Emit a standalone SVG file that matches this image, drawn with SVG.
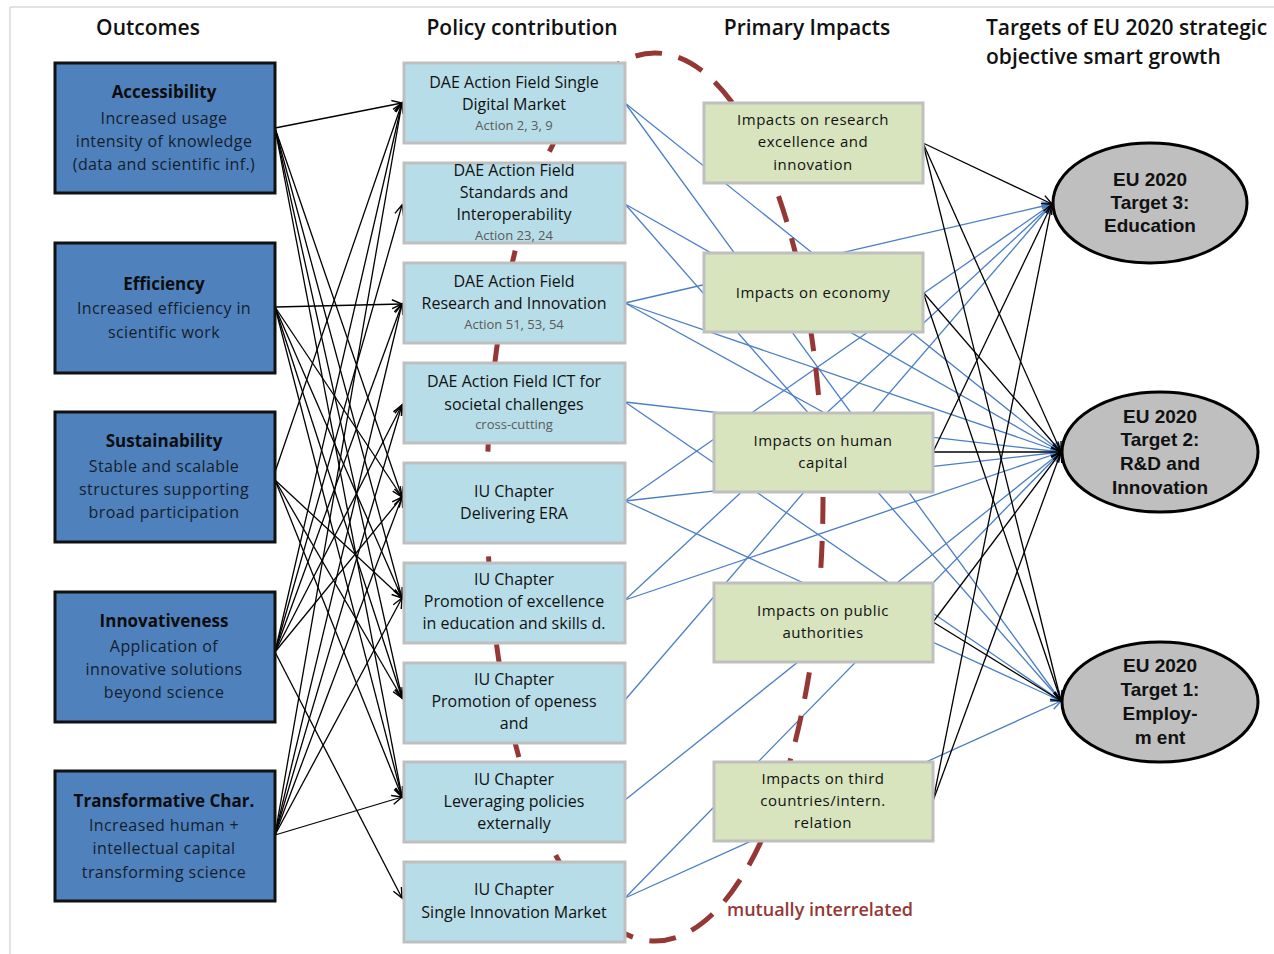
<svg xmlns="http://www.w3.org/2000/svg" width="1274" height="954" viewBox="0 0 1274 954">
  <defs>
    <marker id="arrow-black" markerUnits="userSpaceOnUse" markerWidth="14" markerHeight="12" refX="11" refY="5" orient="auto" overflow="visible">
      <path d="M1,0.5 L11,5 L1,9.5" fill="none" stroke="#000" stroke-width="1.4"/>
    </marker>
    <marker id="arrow-blue" markerUnits="userSpaceOnUse" markerWidth="14" markerHeight="12" refX="11" refY="5" orient="auto" overflow="visible">
      <path d="M1,0.5 L11,5 L1,9.5" fill="none" stroke="#4A7EC6" stroke-width="1.4"/>
    </marker>
  </defs>
  <style>
    .hdr { font-family: "Open Sans", "Liberation Sans", sans-serif; font-size: 21px; font-weight: 600; fill: #111; }
    .outcome rect { fill: #4F81BD; stroke: #111; stroke-width: 3; }
    .outcome .t { font-family: "Open Sans", "Liberation Sans", sans-serif; font-size: 17px; font-weight: 700; fill: #0d0d0d; text-anchor: middle; }
    .outcome .b { font-family: "Open Sans", "Liberation Sans", sans-serif; font-size: 16px; letter-spacing: 0.4px; fill: #141e2c; text-anchor: middle; }
    .policy rect { fill: #B7DDE8; stroke: #BFBFBF; stroke-width: 3; }
    .policy .m { font-family: "Open Sans", "Liberation Sans", sans-serif; font-size: 16px; fill: #111; text-anchor: middle; }
    .policy .s { font-family: "Open Sans", "Liberation Sans", sans-serif; font-size: 13px; fill: #5a5a5a; text-anchor: middle; }
    .impact rect { fill: #D7E4BD; stroke: #BFBFBF; stroke-width: 3; }
    .impact text { font-family: "Open Sans", "Liberation Sans", sans-serif; font-size: 15px; letter-spacing: 0.5px; fill: #111; text-anchor: middle; }
    .target ellipse { fill: #BFBFBF; stroke: #000; stroke-width: 3; }
    .target text { font-family: "Liberation Sans", Arial, sans-serif; font-size: 19px; font-weight: 700; fill: #111; text-anchor: middle; }
    .blk { stroke: #000; stroke-width: 1.3; fill: none; }
    .blu { stroke: #4A7EC6; stroke-width: 1.3; fill: none; }
    .frame { stroke: #D9D9D9; stroke-width: 1.5; }
  </style>

  <rect x="0" y="0" width="1274" height="954" fill="#fff"/>
  <line class="frame" x1="10" y1="7" x2="1274" y2="7"/>
  <line class="frame" x1="10" y1="7" x2="10" y2="954"/>

  <!-- column headings -->
  <g id="headings">
    <text class="hdr" x="148" y="35" text-anchor="middle">Outcomes</text>
    <text class="hdr" x="522" y="35" text-anchor="middle">Policy contribution</text>
    <text class="hdr" x="807" y="35" text-anchor="middle">Primary Impacts</text>
    <text class="hdr" x="986" y="35">Targets of EU 2020 strategic</text>
    <text class="hdr" x="986" y="64">objective smart growth</text>
  </g>

  <!-- connectors -->
  <g id="connectors">
    <!-- outcomes to policy contributions -->
    <g marker-end="url(#arrow-black)">
      <line class="blk" x1="275" y1="128" x2="402" y2="103"/>
      <line class="blk" x1="275" y1="128" x2="402" y2="497"/>
      <line class="blk" x1="275" y1="128" x2="402" y2="598"/>
      <line class="blk" x1="275" y1="128" x2="402" y2="698"/>
      <line class="blk" x1="275" y1="128" x2="402" y2="797"/>

      <line class="blk" x1="275" y1="307" x2="402" y2="304"/>
      <line class="blk" x1="275" y1="307" x2="402" y2="497"/>
      <line class="blk" x1="275" y1="307" x2="402" y2="598"/>
      <line class="blk" x1="275" y1="307" x2="402" y2="698"/>
      <line class="blk" x1="275" y1="307" x2="402" y2="797"/>

      <line class="blk" x1="275" y1="472" x2="402" y2="103"/>
      <line class="blk" x1="275" y1="480" x2="402" y2="598"/>
      <line class="blk" x1="275" y1="480" x2="402" y2="698"/>
      <line class="blk" x1="275" y1="480" x2="402" y2="797"/>

      <line class="blk" x1="275" y1="652" x2="402" y2="103"/>
      <line class="blk" x1="275" y1="652" x2="402" y2="205"/>
      <line class="blk" x1="275" y1="652" x2="402" y2="304"/>
      <line class="blk" x1="275" y1="652" x2="402" y2="405"/>
      <line class="blk" x1="275" y1="652" x2="402" y2="497"/>
      <line class="blk" x1="275" y1="652" x2="402" y2="898"/>

      <line class="blk" x1="275" y1="835" x2="402" y2="103"/>
      <line class="blk" x1="275" y1="835" x2="402" y2="304"/>
      <line class="blk" x1="275" y1="835" x2="402" y2="405"/>
      <line class="blk" x1="275" y1="835" x2="402" y2="497"/>
      <line class="blk" x1="275" y1="835" x2="402" y2="598"/>
      <line class="blk" x1="275" y1="835" x2="402" y2="797"/>
    </g>

    <!-- policy contributions to targets (drawn beneath the impact boxes) -->
    <g marker-end="url(#arrow-blue)">
      <line class="blu" x1="625" y1="103" x2="1061" y2="452"/>
      <line class="blu" x1="625" y1="103" x2="1061" y2="701"/>
      <line class="blu" x1="625" y1="204" x2="1061" y2="452"/>
      <line class="blu" x1="625" y1="204" x2="1061" y2="701"/>
      <line class="blu" x1="625" y1="303" x2="1052" y2="204"/>
      <line class="blu" x1="625" y1="303" x2="1061" y2="452"/>
      <line class="blu" x1="625" y1="402" x2="1061" y2="452"/>
      <line class="blu" x1="625" y1="402" x2="1061" y2="701"/>
      <line class="blu" x1="625" y1="501" x2="1052" y2="204"/>
      <line class="blu" x1="625" y1="501" x2="1061" y2="452"/>
      <line class="blu" x1="625" y1="501" x2="1061" y2="701"/>
      <line class="blu" x1="625" y1="600" x2="1052" y2="204"/>
      <line class="blu" x1="625" y1="600" x2="1061" y2="452"/>
      <line class="blu" x1="625" y1="700" x2="1052" y2="204"/>
      <line class="blu" x1="625" y1="800" x2="1061" y2="452"/>
      <line class="blu" x1="625" y1="898" x2="1061" y2="452"/>
      <line class="blu" x1="625" y1="898" x2="1061" y2="701"/>
    </g>
    <line class="blu" x1="625" y1="303" x2="823" y2="412"/>

    <!-- primary impacts to targets -->
    <g marker-end="url(#arrow-black)">
      <line class="blk" x1="923" y1="143" x2="1052" y2="204"/>
      <line class="blk" x1="923" y1="143" x2="1061" y2="452"/>
      <line class="blk" x1="923" y1="143" x2="1061" y2="701"/>
      <line class="blk" x1="923" y1="292" x2="1061" y2="452"/>
      <line class="blk" x1="923" y1="292" x2="1061" y2="701"/>
      <line class="blk" x1="933" y1="452" x2="1052" y2="204"/>
      <line class="blk" x1="933" y1="452" x2="1061" y2="452"/>
      <line class="blk" x1="933" y1="622" x2="1061" y2="452"/>
      <line class="blk" x1="933" y1="622" x2="1061" y2="701"/>
      <line class="blk" x1="933" y1="801" x2="1052" y2="204"/>
      <line class="blk" x1="933" y1="801" x2="1061" y2="452"/>
    </g>
  </g>

  <!-- dashed loop marking the interrelated policy fields -->
  <g id="interrelation">
    <ellipse cx="655" cy="497" rx="168" ry="444" fill="none" stroke="#953735" stroke-width="5" stroke-dasharray="27 17"/>
    <text x="727" y="916" font-family="'Open Sans', 'Liberation Sans', sans-serif" font-size="18" font-weight="600" fill="#953735">mutually interrelated</text>
  </g>

  <!-- outcomes -->
  <g id="outcome-accessibility" class="outcome">
    <rect x="55" y="63" width="220" height="130"/>
    <text class="t" x="164" y="98">Accessibility</text>
    <text class="b" x="164" y="124">Increased usage</text>
    <text class="b" x="164" y="147">intensity of knowledge</text>
    <text class="b" x="164" y="170">(data and scientific inf.)</text>
  </g>
  <g id="outcome-efficiency" class="outcome">
    <rect x="55" y="243" width="220" height="130"/>
    <text class="t" x="164" y="290">Efficiency</text>
    <text class="b" x="164" y="314">Increased efficiency in</text>
    <text class="b" x="164" y="338">scientific work</text>
  </g>
  <g id="outcome-sustainability" class="outcome">
    <rect x="55" y="412" width="220" height="130"/>
    <text class="t" x="164" y="447">Sustainability</text>
    <text class="b" x="164" y="472">Stable and scalable</text>
    <text class="b" x="164" y="495">structures supporting</text>
    <text class="b" x="164" y="518">broad participation</text>
  </g>
  <g id="outcome-innovativeness" class="outcome">
    <rect x="55" y="592" width="220" height="130"/>
    <text class="t" x="164" y="627">Innovativeness</text>
    <text class="b" x="164" y="652">Application of</text>
    <text class="b" x="164" y="675">innovative solutions</text>
    <text class="b" x="164" y="698">beyond science</text>
  </g>
  <g id="outcome-transformative" class="outcome">
    <rect x="55" y="771" width="220" height="130"/>
    <text class="t" x="164" y="807">Transformative Char.</text>
    <text class="b" x="164" y="831">Increased human +</text>
    <text class="b" x="164" y="854">intellectual capital</text>
    <text class="b" x="164" y="878">transforming science</text>
  </g>

  <!-- policy contributions -->
  <g id="policy-single-digital-market" class="policy">
    <rect x="404" y="63" width="221" height="80"/>
    <text class="m" x="514" y="88">DAE Action Field Single</text>
    <text class="m" x="514" y="110">Digital Market</text>
    <text class="s" x="514" y="130">Action 2, 3, 9</text>
  </g>
  <g id="policy-standards" class="policy">
    <rect x="404" y="163" width="221" height="80"/>
    <text class="m" x="514" y="176">DAE Action Field</text>
    <text class="m" x="514" y="198">Standards and</text>
    <text class="m" x="514" y="220">Interoperability</text>
    <text class="s" x="514" y="240">Action 23, 24</text>
  </g>
  <g id="policy-research" class="policy">
    <rect x="404" y="263" width="221" height="80"/>
    <text class="m" x="514" y="287">DAE Action Field</text>
    <text class="m" x="514" y="309">Research and Innovation</text>
    <text class="s" x="514" y="329">Action 51, 53, 54</text>
  </g>
  <g id="policy-ict" class="policy">
    <rect x="404" y="363" width="221" height="80"/>
    <text class="m" x="514" y="387">DAE Action Field ICT for</text>
    <text class="m" x="514" y="410">societal challenges</text>
    <text class="s" x="514" y="429">cross-cutting</text>
  </g>
  <g id="policy-era" class="policy">
    <rect x="404" y="463" width="221" height="80"/>
    <text class="m" x="514" y="497">IU Chapter</text>
    <text class="m" x="514" y="519">Delivering ERA</text>
  </g>
  <g id="policy-excellence" class="policy">
    <rect x="404" y="563" width="221" height="80"/>
    <text class="m" x="514" y="585">IU Chapter</text>
    <text class="m" x="514" y="607">Promotion of excellence</text>
    <text class="m" x="514" y="629">in education and skills d.</text>
  </g>
  <g id="policy-openess" class="policy">
    <rect x="404" y="663" width="221" height="80"/>
    <text class="m" x="514" y="685">IU Chapter</text>
    <text class="m" x="514" y="707">Promotion of openess</text>
    <text class="m" x="514" y="729">and</text>
  </g>
  <g id="policy-leveraging" class="policy">
    <rect x="404" y="762" width="221" height="80"/>
    <text class="m" x="514" y="785">IU Chapter</text>
    <text class="m" x="514" y="807">Leveraging policies</text>
    <text class="m" x="514" y="829">externally</text>
  </g>
  <g id="policy-single-innovation-market" class="policy">
    <rect x="404" y="862" width="221" height="80"/>
    <text class="m" x="514" y="895">IU Chapter</text>
    <text class="m" x="514" y="918">Single Innovation Market</text>
  </g>

  <!-- primary impacts -->
  <g id="impact-research" class="impact">
    <rect x="704" y="103" width="219" height="80"/>
    <text x="813" y="125">Impacts on research</text>
    <text x="813" y="147">excellence and</text>
    <text x="813" y="170">innovation</text>
  </g>
  <g id="impact-economy" class="impact">
    <rect x="704" y="253" width="219" height="79"/>
    <text x="813" y="298">Impacts on economy</text>
  </g>
  <g id="impact-human-capital" class="impact">
    <rect x="714" y="413" width="219" height="79"/>
    <text x="823" y="446">Impacts on human</text>
    <text x="823" y="468">capital</text>
  </g>
  <g id="impact-public-authorities" class="impact">
    <rect x="714" y="583" width="219" height="79"/>
    <text x="823" y="616">Impacts on public</text>
    <text x="823" y="638">authorities</text>
  </g>
  <g id="impact-third-countries" class="impact">
    <rect x="714" y="762" width="219" height="79"/>
    <text x="823" y="784">Impacts on third</text>
    <text x="823" y="806">countries/intern.</text>
    <text x="823" y="828">relation</text>
  </g>

  <!-- EU 2020 targets -->
  <g id="target-education" class="target">
    <ellipse cx="1150" cy="203" rx="97" ry="60"/>
    <text x="1150" y="186">EU 2020</text>
    <text x="1150" y="209">Target 3:</text>
    <text x="1150" y="232">Education</text>
  </g>
  <g id="target-rd" class="target">
    <ellipse cx="1160" cy="452" rx="98" ry="60"/>
    <text x="1160" y="423">EU 2020</text>
    <text x="1160" y="446">Target 2:</text>
    <text x="1160" y="470">R&amp;D and</text>
    <text x="1160" y="494">Innovation</text>
  </g>
  <g id="target-employment" class="target">
    <ellipse cx="1160" cy="702" rx="98" ry="60"/>
    <text x="1160" y="672">EU 2020</text>
    <text x="1160" y="696">Target 1:</text>
    <text x="1160" y="720">Employ-</text>
    <text x="1160" y="744">m ent</text>
  </g>
</svg>
